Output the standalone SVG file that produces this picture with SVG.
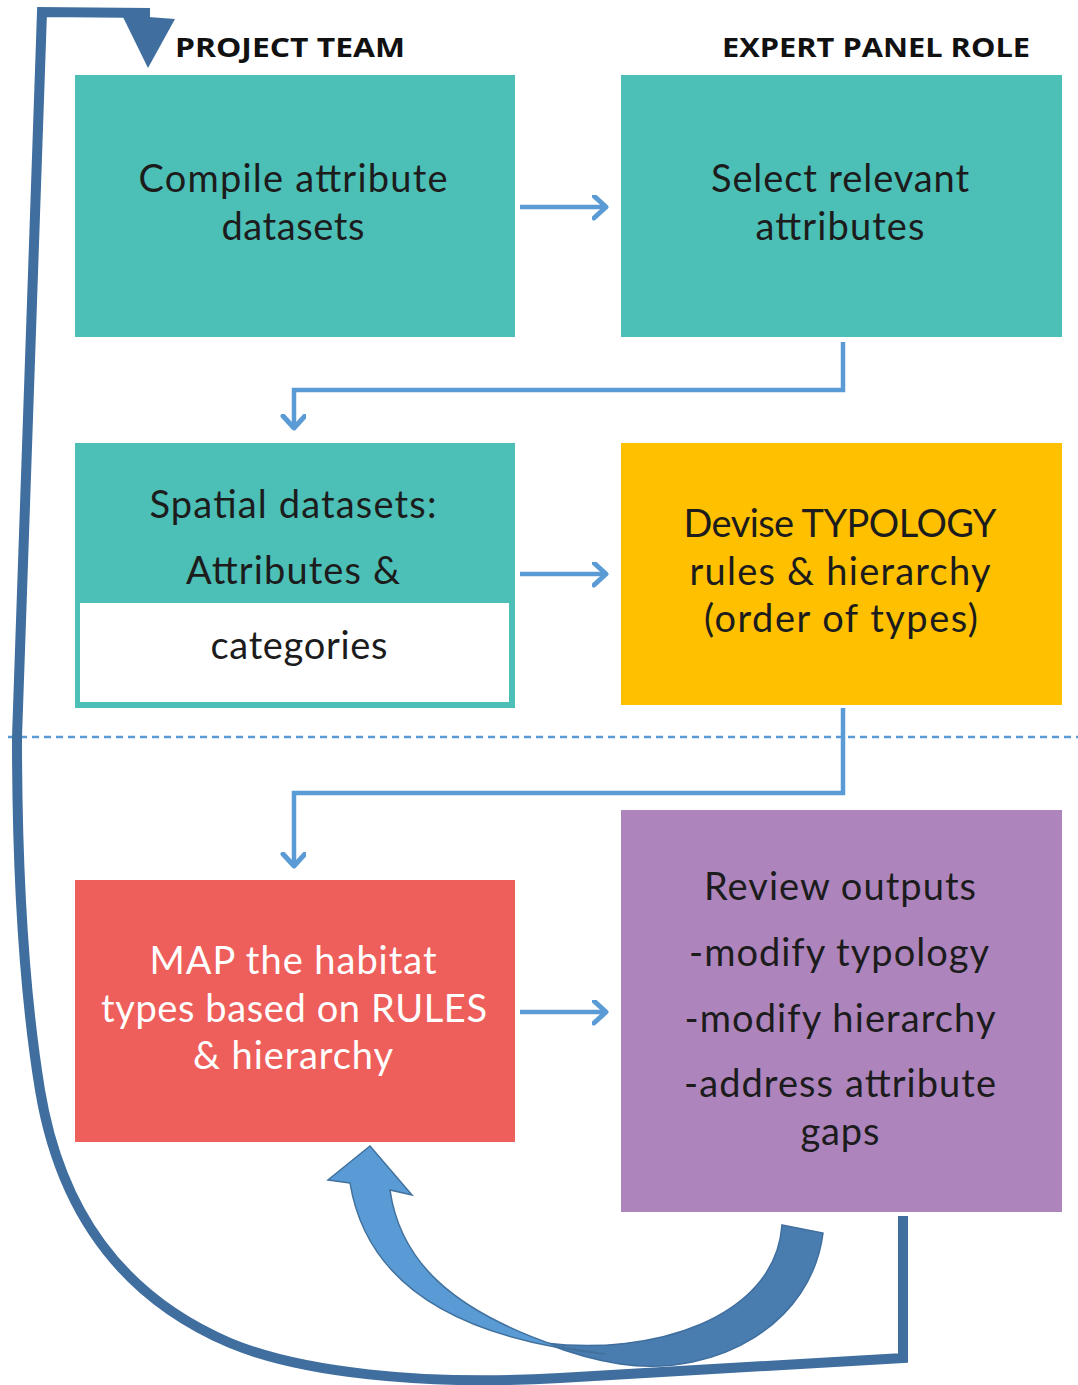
<svg xmlns="http://www.w3.org/2000/svg" width="1078" height="1385" viewBox="0 0 1078 1385">
<style>
.t{font-family:Lato,"Noto Sans","Liberation Sans",sans-serif;font-size:38px;fill:#1c1c1c;text-anchor:middle}
.w{fill:#ffffff}
.h{font-family:"Open Sans","Liberation Sans",sans-serif;font-size:27px;font-weight:bold;fill:#111}
.c{fill:none;stroke:#5B9BD5;stroke-width:4.5;stroke-linejoin:miter}
</style>
<defs>
<marker id="ah" markerUnits="userSpaceOnUse" markerWidth="30" markerHeight="30" refX="14" refY="12" orient="auto" viewBox="0 0 30 30">
<polyline points="2,1 14,12 2,23" fill="none" stroke="#5B9BD5" stroke-width="5" stroke-linecap="round" stroke-linejoin="round"/>
</marker>
</defs>
<rect width="1078" height="1385" fill="#ffffff"/>

<g id="headers">
<text class="h" x="175" y="57" textLength="230" lengthAdjust="spacingAndGlyphs">PROJECT TEAM</text>
<text class="h" x="722" y="57" textLength="308" lengthAdjust="spacingAndGlyphs">EXPERT PANEL ROLE</text>
</g>

<g id="divider">
<line x1="8" y1="737" x2="1078" y2="737" stroke="#5B9BD5" stroke-width="2.5" stroke-dasharray="7,5"/>
</g>

<g id="connectors">
<line class="c" x1="520" y1="207" x2="606" y2="207" marker-end="url(#ah)"/>
<line class="c" x1="520" y1="574" x2="606" y2="574" marker-end="url(#ah)"/>
<line class="c" x1="520" y1="1012" x2="606" y2="1012" marker-end="url(#ah)"/>
<path class="c" d="M843,342 V390 H294 V428" marker-end="url(#ah)"/>
<path class="c" d="M843,708 V793 H294 V866" marker-end="url(#ah)"/>
<path d="M903,1216 L903,1358 L560,1378 C420,1386 300,1372 230,1343 C120,1296 60,1210 40,1090 C22,980 17,850 17,737 L42,12 L150,13" fill="none" stroke="#3F6E9F" stroke-width="10" stroke-linejoin="miter"/>
<polygon points="122,15 175,19 148,68" fill="#3F6E9F"/>
<path d="M782,1225 L823,1233 C812,1322 720,1378 620,1364 C595,1360 570,1353 545,1343 C650,1356 775,1320 782,1225 Z" fill="#4A7DAF" stroke="#3F6E9F" stroke-width="1.5"/>
<path d="M350,1183 L328,1180 L370,1146 L412,1195 L390,1190 C400,1260 450,1310 560,1347 L605,1354 C470,1340 368,1292 350,1183 Z" fill="#5B9BD5" stroke="#41719C" stroke-width="1.5"/>
</g>

<g id="n1">
<rect x="75" y="75" width="440" height="262" fill="#4CBFB6"/>
<text class="t" x="293" y="192" textLength="309">Compile attribute</text>
<text class="t" x="293" y="240" textLength="143">datasets</text>
</g>
<g id="n2">
<rect x="621" y="75" width="441" height="262" fill="#4CBFB6"/>
<text class="t" x="840" y="192" textLength="258">Select relevant</text>
<text class="t" x="840" y="240" textLength="169">attributes</text>
</g>
<g id="n3">
<rect x="75" y="443" width="440" height="265" fill="#4CBFB6"/>
<rect x="80" y="603" width="429" height="99" fill="#ffffff"/>
<text class="t" x="293" y="518" textLength="287">Spatial datasets:</text>
<text class="t" x="293" y="584" textLength="214">Attributes &amp;</text>
<text class="t" x="299" y="659" textLength="177">categories</text>
</g>
<g id="n4">
<rect x="621" y="443" width="441" height="262" fill="#FFC000"/>
<text class="t" x="840" y="537" textLength="313">Devise TYPOLOGY</text>
<text class="t" x="840" y="585" textLength="301">rules &amp; hierarchy</text>
<text class="t" x="841" y="632" textLength="274">(order of types)</text>
</g>
<g id="n5">
<rect x="75" y="880" width="440" height="262" fill="#EE5E5B"/>
<text class="t w" x="293" y="974" textLength="287">MAP the habitat</text>
<text class="t w" x="294" y="1022" textLength="386">types based on RULES</text>
<text class="t w" x="293" y="1069" textLength="200">&amp; hierarchy</text>
</g>
<g id="n6">
<rect x="621" y="810" width="441" height="402" fill="#AD84BC"/>
<text class="t" x="840" y="900" textLength="272">Review outputs</text>
<text class="t" x="839" y="966" textLength="300">-modify typology</text>
<text class="t" x="840" y="1032" textLength="311">-modify hierarchy</text>
<text class="t" x="840" y="1097" textLength="312">-address attribute</text>
<text class="t" x="840" y="1145" textLength="79">gaps</text>
</g>
</svg>
